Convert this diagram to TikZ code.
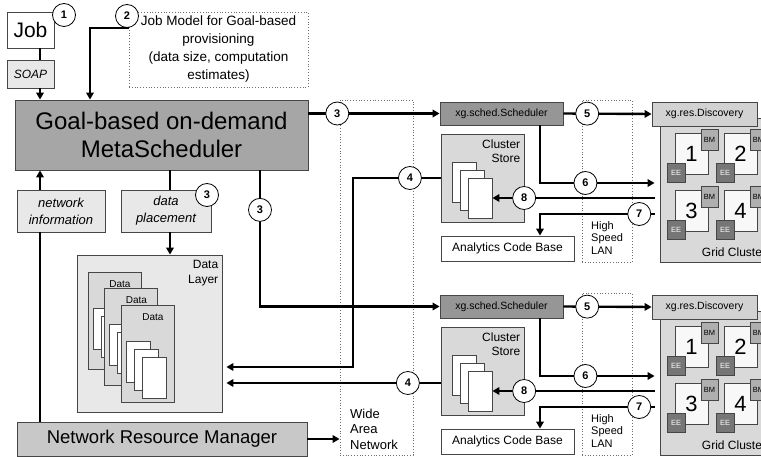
\documentclass[tikz,border=0pt]{standalone}
\usepackage{fontspec}
\setmainfont{Liberation Sans}
\usetikzlibrary{arrows.meta}

\definecolor{edgegray}{RGB}{70,70,70}
\definecolor{dotgray}{RGB}{110,110,110}
\definecolor{msgray}{RGB}{166,166,166}
\definecolor{schedgray}{RGB}{150,150,150}
\definecolor{nrmgray}{RGB}{200,200,200}
\definecolor{palegray}{RGB}{232,232,232}
\definecolor{storegray}{RGB}{217,217,217}
\definecolor{discgray}{RGB}{210,210,210}
\definecolor{bmgray}{RGB}{175,175,175}
\definecolor{eegray}{RGB}{118,118,118}
\definecolor{nodewhite}{RGB}{248,248,248}

\newcommand{\fsz}[2]{\fontsize{#1}{#2}\selectfont}

\begin{document}
\begin{tikzpicture}
  [x=1pt,y=-1pt,
   box/.style={draw=edgegray,line width=.8pt,inner sep=0pt,align=center},
   dotbox/.style={draw=dotgray,dotted,line width=.8pt},
   page/.style={box,fill=white,minimum width=24,minimum height=40},
   num/.style={circle,draw,fill=white,line width=.8pt,minimum size=23,inner sep=0pt,font=\bfseries\fsz{11}{13}},
   txt/.style={inner sep=0pt},
   wire/.style={line width=2.4pt},
   arr/.style={wire,-{Triangle[length=7pt,width=7.5pt]}}]
  \useasboundingbox (0,0) rectangle (761,457);
  \clip (0,0) rectangle (761,457);

  % wide area network
  \node[dotbox,minimum width=73,minimum height=355] (wan) at (376.5,277.5) {};
  \node[txt,anchor=west,align=left,font=\fsz{13}{15.5}] (wantxt) at (350,429) {Wide\\Area\\Network};

  % job submission
  \coordinate (spine) at (40,0);
  \node[box,fill=white,minimum width=47,minimum height=36,font=\fsz{21}{24}] (job) at (30.5,30) {Job};
  \node[box,fill=palegray,minimum width=47,minimum height=28,font=\itshape\fsz{12}{14}] (soap) at (30.5,74) {SOAP};
  \node[box,dotted,draw=dotgray,fill=white,minimum width=179,minimum height=75,font=\fsz{13.5}{18}] (model) at (218.5,49.5) {Job Model for Goal-based\\provisioning\\(data size, computation\\estimates)};
  \node[num] (n1) at (64,15) {1};
  \node[num] (n2) at (127,16) {2};
  \node[box,fill=msgray,minimum width=293,minimum height=70,font=\fsz{24}{28}] (ms) at (161.5,135) {Goal-based on-demand\\MetaScheduler};

  \draw[wire] (job.south -| spine) -- (soap.north -| spine);
  \draw[arr] (soap.south -| spine) -- (ms.north -| spine);
  \coordinate (mbend) at (90,28);
  \draw[arr] (model.west |- mbend) -- (mbend) -- (ms.north -| mbend);

  % network info and data layer
  \node[box,fill=palegray,minimum width=88,minimum height=42,font=\itshape\fsz{13}{17}] (netinfo) at (61,211) {network\\information};
  \node[box,fill=palegray,minimum width=90,minimum height=42,font=\itshape\fsz{13}{17}] (place) at (166,211) {data\\placement};
  \node[num] (n3a) at (207,195) {3};
  \node[box,fill=palegray,minimum width=145,minimum height=157] (dl) at (149.5,333.5) {};
  \node[txt,anchor=north east,align=right,font=\fsz{12}{15}] (dltxt) at ([xshift=-4pt,yshift=-5pt]dl.north east) {Data\\Layer};
  \foreach \d/\x in {a/0,b/16.5,c/33}{
    \node[box,fill=storegray,minimum width=53,minimum height=97] (db\d) at ({114.5+\x},{320.5+\x}) {};
    \node[txt,font=\fsz{10}{12}] at ({120+\x},{284+\x}) {Data};
    \foreach \i in {0,1,2}
      \node[page,minimum height=41] (dp\d\i) at ({105+\x+8*\i},{328.5+\x+8*\i}) {};
  }
  \node[box,fill=nrmgray,minimum width=290,minimum height=34,font=\fsz{18.5}{22}] (nrm) at (162,439) {Network Resource Manager};

  \coordinate (pl) at (170,0);
  \draw[arr] (nrm.east) -- (wan.west |- nrm.east);
  \draw[wire] (nrm.north -| spine) -- (netinfo.south -| spine);
  \draw[arr] (netinfo.north -| spine) -- (ms.south -| spine);
  \draw[wire] (place.north -| pl) -- (ms.south -| pl);
  \draw[arr] (place.south -| pl) -- (dl.north -| pl);

  % two grid sites
  \foreach \k/\dy in {1/0,2/193}{
    \begin{scope}[shift={(0,\dy)}]
      \node[dotbox,minimum width=50,minimum height=162] (lan\k) at (607,181) {};
      \node[txt,anchor=west,align=left,font=\fsz{11}{12.5}] at (591,238) {High\\Speed\\LAN};
      \node[box,fill=schedgray,minimum width=123,minimum height=23,font=\fsz{10.5}{12}] (sched\k) at (501.5,113.5) {xg.sched.Scheduler};
      \node[box,fill=storegray,minimum width=83,minimum height=88] (store\k) at (482.5,178) {};
      \node[txt,anchor=north east,align=right,font=\fsz{12}{14.5}] at ([xshift=-4pt,yshift=-6pt]store\k.north east) {Cluster\\Store};
      \foreach \i in {1,2,3}
        \node[page] (pg\k\i) at ({456+8*\i},{174+8*\i}) {};
      \node[box,fill=white,minimum width=133,minimum height=25,font=\fsz{12}{14}] (acb\k) at (507.5,248.5) {Analytics Code Base};
      \node[box,fill=storegray,minimum width=140,minimum height=144] (grid\k) at (730,190) {};
      \node[txt,font=\fsz{12}{14}] at (734,252) {Grid Cluster};
      \foreach \g/\x/\y in {1/0/0,2/49/0,3/0/57,4/49/57}{
        \node[box,fill=nodewhite,minimum width=33,minimum height=41,font=\fsz{22}{24}] (nd\k\g) at ({691.5+\x},{153.5+\y}) {\g};
        \node[box,fill=bmgray,minimum width=17,minimum height=21,font=\fsz{7.5}{8}] (bm\k\g) at ({709.5+\x},{139.5+\y}) {BM};
        \node[box,fill=eegray,text=white,minimum width=18,minimum height=19,font=\fsz{7.5}{8}] (ee\k\g) at ({676+\x},{172.5+\y}) {EE};
      }
      \node[box,fill=discgray,minimum width=105,minimum height=24,font=\fsz{10.5}{12}] (disc\k) at (704.5,114) {xg.res.Discovery};

      \coordinate (b6\k) at (540,183);
      \coordinate (b7\k) at (540,214);
      \draw[arr] (sched\k.east) -- node[num,pos=.27]{5} (disc\k.west);
      \draw[arr,shorten >=5pt] (sched\k.south -| b6\k) -- (b6\k) -- node[num,pos=.38]{6} (grid\k.west |- b6\k);
      \draw[arr,shorten <=5pt] (grid\k.west |- pg\k3.east) -- node[num,pos=.81]{8} (pg\k3.east);
      \draw[arr,shorten <=5pt] (grid\k.west |- b7\k) -- node[num,pos=.17]{7} (b7\k) -- (acb\k.north -| b7\k);
    \end{scope}
  }

  % metascheduler to sites and back
  \draw[arr] (ms.east |- sched1.west) -- node[num,pos=.22]{3} (sched1.west);
  \coordinate (bend3) at (260,306.5);
  \draw[arr] (ms.south -| bend3) -- node[num,pos=.29]{3} (bend3) -- (sched2.west);
  \coordinate (bend4a) at (353,178);
  \coordinate (bend4b) at (353,367);
  \draw[arr,shorten >=4pt] (store1.west) -- node[num,pos=.35]{4} (bend4a) -- (bend4b) -- (dl.east |- bend4b);
  \coordinate (lvl4) at (300,383);
  \draw[arr,shorten >=4pt] (store2.west |- lvl4) -- node[num,pos=.15]{4} (dl.east |- lvl4);
\end{tikzpicture}
\end{document}
